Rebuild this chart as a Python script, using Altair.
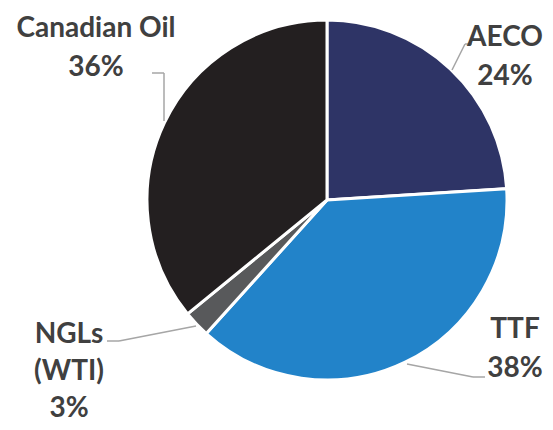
import altair as alt
import pandas as pd

categories = ["AECO", "TTF", "NGLs (WTI)", "Canadian Oil"]
shares = [24.0, 37.7, 2.4, 35.9]
pct_labels = ["24%", "38%", "3%", "36%"]
label_lines = [["AECO"], ["TTF"], ["NGLs", "(WTI)"], ["Canadian Oil"]]
colors = ["#2E3466", "#2283C9", "#58595B", "#231F20"]

df = pd.DataFrame({"category": categories, "share": shares, "order": list(range(len(categories)))})

pie = alt.Chart(df).mark_arc(outerRadius=180, stroke="white", strokeWidth=3).encode(
    theta=alt.Theta("share:Q", stack=True),
    order=alt.Order("order:Q"),
    color=alt.Color("category:N", scale=alt.Scale(domain=categories, range=colors), legend=None),
    x=alt.value(319), y=alt.value(192),
)

one = pd.DataFrame({"a": [0]})

def rule(x1, y1, x2, y2):
    return alt.Chart(one).mark_rule(color="#A6A6A6", strokeWidth=1.5).encode(
        x=alt.value(x1 - 8), y=alt.value(y1 - 8), x2=alt.value(x2 - 8), y2=alt.value(y2 - 8)
    )

leaders = [
    rule(152, 73, 164, 73), rule(164, 73, 164, 121),
    rule(472, 44, 465, 44), rule(465, 44, 452, 70),
    rule(107, 341, 119, 341), rule(119, 341, 196, 326),
    rule(485, 377, 473, 377), rule(473, 377, 407, 364),
]

label_pos = {"AECO": (505, 46), "TTF": (515, 338), "NGLs (WTI)": (69, 343), "Canadian Oil": (96, 37)}
line_heights = {"AECO": 39, "TTF": 39, "NGLs (WTI)": 37, "Canadian Oil": 39}

texts = []
for cat, lines, pct in zip(categories, label_lines, pct_labels):
    px, py = label_pos[cat]
    texts.append(
        alt.Chart(one).mark_text(
            font="Lato", fontWeight="bold", fontSize=28, color="#404040",
            align="center", baseline="alphabetic", lineHeight=line_heights[cat],
        ).encode(x=alt.value(px - 8), y=alt.value(py - 8), text=alt.value(lines + [pct]))
    )

chart = alt.layer(pie, *leaders, *texts).properties(
    width=537, height=414, padding=0,
    autosize=alt.AutoSizeParams(type="fit", contains="padding"),
).configure_view(stroke=None)

chart.save("out.html", embed_options={"renderer": "svg", "actions": False})
